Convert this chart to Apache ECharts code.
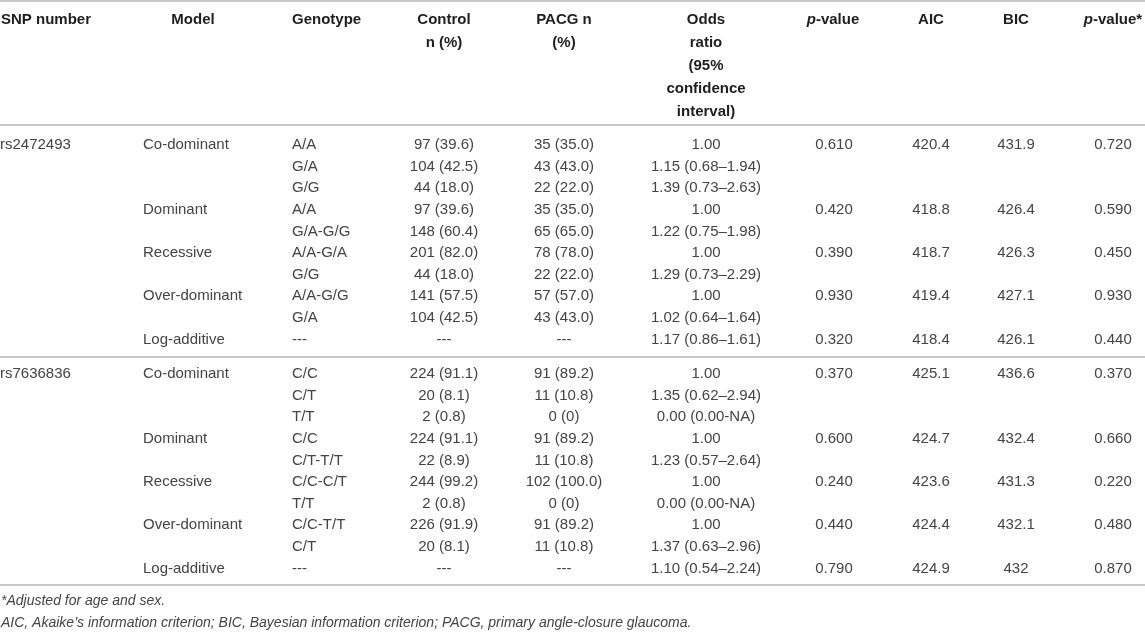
<!DOCTYPE html>
<html>
<head>
<meta charset="utf-8">
<script src="https://cdn.jsdelivr.net/npm/echarts@6/dist/echarts.min.js"></script>
<style>
  html, body { margin: 0; padding: 0; background: #fff; }
  #main { width: 1145px; height: 635px; }
</style>
</head>
<body>
<div id="main"></div>
<script>
// table content
const headers = ['SNP number', 'Model', 'Genotype', 'Control\nn (%)', 'PACG n\n(%)',
  'Odds\nratio\n(95%\nconfidence\ninterval)', '{i|p}-value', 'AIC', 'BIC', '{i|p}-value*'];
const snpNumbers = ['rs2472493', 'rs7636836'];
const modelNames = ['Co-dominant', 'Dominant', 'Recessive', 'Over-dominant', 'Log-additive'];
const modelFirstRow = [0, 3, 5, 7, 9];

// rs2472493
const genotype1 = ['A/A', 'G/A', 'G/G', 'A/A', 'G/A-G/G', 'A/A-G/A', 'G/G', 'A/A-G/G', 'G/A', '---'];
const control1 = ['97 (39.6)', '104 (42.5)', '44 (18.0)', '97 (39.6)', '148 (60.4)', '201 (82.0)', '44 (18.0)', '141 (57.5)', '104 (42.5)', '---'];
const pacg1 = ['35 (35.0)', '43 (43.0)', '22 (22.0)', '35 (35.0)', '65 (65.0)', '78 (78.0)', '22 (22.0)', '57 (57.0)', '43 (43.0)', '---'];
const oddsRatio1 = ['1.00', '1.15 (0.68–1.94)', '1.39 (0.73–2.63)', '1.00', '1.22 (0.75–1.98)', '1.00', '1.29 (0.73–2.29)', '1.00', '1.02 (0.64–1.64)', '1.17 (0.86–1.61)'];
const pValue1 = ['0.610', '0.420', '0.390', '0.930', '0.320'];
const aic1 = ['420.4', '418.8', '418.7', '419.4', '418.4'];
const bic1 = ['431.9', '426.4', '426.3', '427.1', '426.1'];
const pAdjusted1 = ['0.720', '0.590', '0.450', '0.930', '0.440'];

// rs7636836
const genotype2 = ['C/C', 'C/T', 'T/T', 'C/C', 'C/T-T/T', 'C/C-C/T', 'T/T', 'C/C-T/T', 'C/T', '---'];
const control2 = ['224 (91.1)', '20 (8.1)', '2 (0.8)', '224 (91.1)', '22 (8.9)', '244 (99.2)', '2 (0.8)', '226 (91.9)', '20 (8.1)', '---'];
const pacg2 = ['91 (89.2)', '11 (10.8)', '0 (0)', '91 (89.2)', '11 (10.8)', '102 (100.0)', '0 (0)', '91 (89.2)', '11 (10.8)', '---'];
const oddsRatio2 = ['1.00', '1.35 (0.62–2.94)', '0.00 (0.00-NA)', '1.00', '1.23 (0.57–2.64)', '1.00', '0.00 (0.00-NA)', '1.00', '1.37 (0.63–2.96)', '1.10 (0.54–2.24)'];
const pValue2 = ['0.370', '0.600', '0.240', '0.440', '0.790'];
const aic2 = ['425.1', '424.7', '423.6', '424.4', '424.9'];
const bic2 = ['436.6', '432.4', '431.3', '432.1', '432'];
const pAdjusted2 = ['0.370', '0.660', '0.220', '0.480', '0.870'];

const footnotes = ['*Adjusted for age and sex.',
  'AIC, Akaike\u2019s information criterion; BIC, Bayesian information criterion; PACG, primary angle-closure glaucoma.'];

// layout
const W = 1145;
const colX = [0, 143, 292, 444, 564, 706, 834, 931, 1016, 1113];
const headX = [1, 193, 292, 444, 564, 706, 833, 931, 1016, 1113];
const headAlign = ['left', 'center', 'left', 'center', 'center', 'center', 'center', 'center', 'center', 'center'];
const cellAlign = ['left', 'left', 'left', 'center', 'center', 'center', 'center', 'center', 'center', 'center'];
const rowH = 21.6;
const firstRowY = [145, 374];
const textColor = '#444';
const headColor = '#1e1e1e';
const ruleColor = '#c8c8c8';
const fontFamily = '"Liberation Sans", Arial, sans-serif';
const fontSize = 15;

function sectionCells(snp, genotype, control, pacg, odds, pv, aic, bic, padj) {
  const cells = [[0, 0, snp]];
  modelNames.forEach(function (m, k) {
    const r = modelFirstRow[k];
    cells.push([1, r, m], [6, r, pv[k]], [7, r, aic[k]], [8, r, bic[k]], [9, r, padj[k]]);
  });
  genotype.forEach(function (g, r) {
    cells.push([2, r, g], [3, r, control[r]], [4, r, pacg[r]], [5, r, odds[r]]);
  });
  return cells;
}

const sections = [
  sectionCells(snpNumbers[0], genotype1, control1, pacg1, oddsRatio1, pValue1, aic1, bic1, pAdjusted1),
  sectionCells(snpNumbers[1], genotype2, control2, pacg2, oddsRatio2, pValue2, aic2, bic2, pAdjusted2)
];
const rowIds = genotype1.map(function (_, i) { return String(i); });

function cellSeries(cells, gridIndex) {
  return {
    type: 'custom',
    xAxisIndex: gridIndex,
    yAxisIndex: gridIndex,
    silent: true,
    clip: false,
    data: cells.map(function (c) { return [c[0], c[1]]; }),
    renderItem: function (params, api) {
      const col = api.value(0);
      const p = api.coord([colX[col], api.value(1)]);
      return {
        type: 'text',
        x: p[0],
        y: p[1],
        style: {
          text: cells[params.dataIndex][2],
          fill: textColor,
          font: fontSize + 'px ' + fontFamily,
          align: cellAlign[col],
          verticalAlign: 'middle'
        }
      };
    }
  };
}

const headerSeries = {
  type: 'custom',
  xAxisIndex: 0,
  yAxisIndex: 0,
  silent: true,
  clip: false,
  data: headers.map(function (_, i) { return [i, 0]; }),
  renderItem: function (params, api) {
    const col = api.value(0);
    const p = api.coord([headX[col], 0]);
    const top = p[1] - api.size([0, 1])[1] / 2;
    return {
      type: 'text',
      x: p[0],
      y: top,
      style: {
        text: headers[col],
        fill: headColor,
        fontFamily: fontFamily,
        fontSize: fontSize,
        fontWeight: 'bold',
        lineHeight: 23,
        align: headAlign[col],
        verticalAlign: 'top',
        rich: {
          i: { fontStyle: 'italic', fontWeight: 'bold', fontSize: fontSize, fontFamily: fontFamily, fill: headColor, lineHeight: 23 }
        }
      }
    };
  }
};

const grids = [
  { left: 0, width: W, top: 8.5, height: 20 },
  { left: 0, width: W, top: firstRowY[0] - rowH / 2, height: rowH * 10 },
  { left: 0, width: W, top: firstRowY[1] - rowH / 2, height: rowH * 10 }
];

function rule(y) {
  return { type: 'line', shape: { x1: 0, y1: y, x2: W, y2: y }, style: { stroke: ruleColor, lineWidth: 2 } };
}

const chart = echarts.init(document.getElementById('main'), null, { renderer: 'canvas' });
chart.setOption({
  animation: false,
  backgroundColor: '#fff',
  grid: grids,
  xAxis: grids.map(function (_, i) {
    return { type: 'value', gridIndex: i, min: 0, max: W, show: false };
  }),
  yAxis: [
    { type: 'category', gridIndex: 0, data: ['header'], show: false },
    { type: 'category', gridIndex: 1, data: rowIds, inverse: true, show: false },
    { type: 'category', gridIndex: 2, data: rowIds, inverse: true, show: false }
  ],
  series: [headerSeries, cellSeries(sections[0], 1), cellSeries(sections[1], 2)],
  graphic: [
    rule(1), rule(125), rule(357), rule(585),
    { type: 'text', x: 1, y: 601, style: { text: footnotes[0], fill: textColor, font: 'italic 14px ' + fontFamily, verticalAlign: 'middle' } },
    { type: 'text', x: 1, y: 623, style: { text: footnotes[1], fill: textColor, font: 'italic 14px ' + fontFamily, verticalAlign: 'middle' } }
  ]
});
</script>
</body>
</html>
